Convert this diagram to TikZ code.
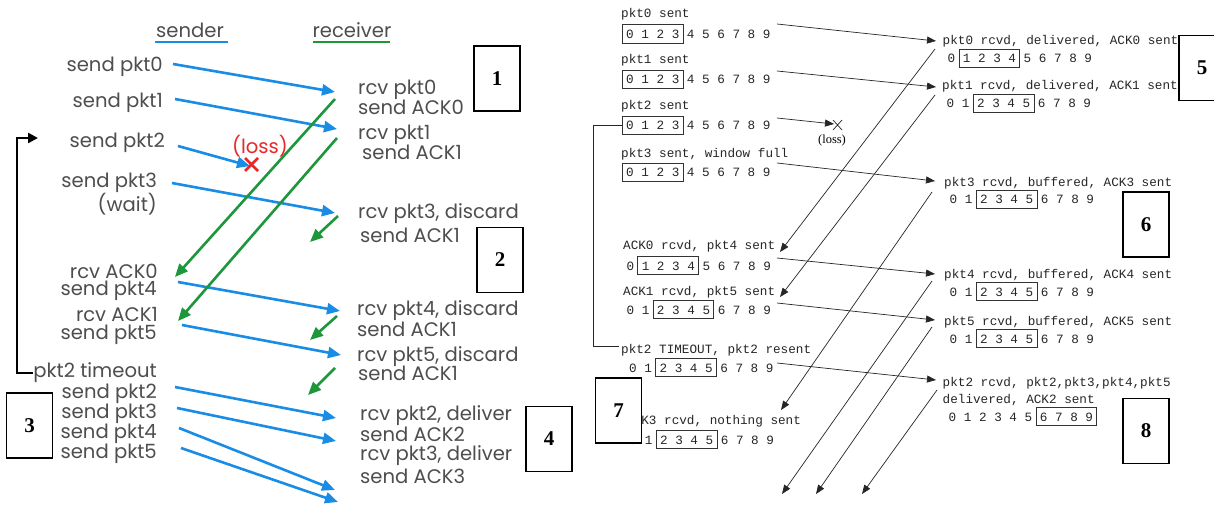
\documentclass[tikz,border=0pt]{standalone}
\usepackage{fontspec}
\usetikzlibrary{arrows.meta}
\newfontfamily\gothic{Poppins}
\newfontfamily\monof{Liberation Mono}
\newfontfamily\serifn{Liberation Serif}
\definecolor{ablue}{RGB}{25,140,230}
\definecolor{agreen}{RGB}{30,150,60}
\definecolor{txtgray}{RGB}{78,78,78}
\definecolor{lossred}{RGB}{232,40,40}
\tikzset{
  lbl/.style={font=\gothic\fontsize{19.6}{20}\selectfont, text=txtgray, inner sep=0pt},
  mono/.style={font=\monof\fontsize{12.66}{13}\selectfont, text=black!85, inner sep=0pt, anchor=base west},
  winbox/.style={draw=black!80, line width=0.8pt},
  barrow/.style={draw=ablue, line width=2.6pt, -{Triangle[length=13pt,width=11pt]}},
  garrow/.style={draw=agreen, line width=2.6pt, -{Triangle[length=13pt,width=11pt]}},
  karrow/.style={draw=black!85, line width=0.7pt, -{Triangle[length=9pt,width=7pt]}},
  numbox/.style={draw, line width=1.8pt, fill=white, minimum width=46pt, minimum height=65pt, inner sep=0pt, font=\serifn\bfseries\fontsize{21}{21}\selectfont},
  bracket/.style={draw=black, line width=2.4pt},
}
% #1 name, #2 x0, #3 baseline y, #4 first boxed index
\newcommand{\winrow}[4]{%
  \node[mono] (#1) at (#2,#3) {0 1 2 3 4 5 6 7 8 9};
  \draw[winbox] ({#2+(2*#4-0.5)*7.6},{#3-14}) rectangle ({#2+(2*#4+7.5)*7.6},{#3+4.5});
}
\begin{document}
\begin{tikzpicture}[x=1pt,y=-1pt]
\clip (0,0) rectangle (1214,505);
\fill[white] (0,0) rectangle (1214,505);

% ---------------- left: titles ----------------
\node[lbl] (sender) at (190,30) {sender};
\draw[ablue, line width=2.5pt] (155,42) -- (228,42);
\node[lbl] (receiver) at (352,30) {receiver};
\draw[agreen, line width=2.5pt] (313,42) -- (390,42);

% ---------------- left: sender labels ----------------
\node[lbl, anchor=east] (s0) at (163,67) {send pkt0};
\node[lbl, anchor=east] (s1) at (163,103) {send pkt1};
\node[lbl, anchor=east] (s2) at (165,143) {send pkt2};
\node[lbl, anchor=east] (s3) at (157,183) {send pkt3};
\node[lbl, anchor=east] (s3w) at (157,204) {(wait)};
\node[lbl, anchor=east] (ra0) at (158,271) {rcv ACK0};
\node[lbl, anchor=east] (s4) at (157,291) {send pkt4};
\node[lbl, anchor=east] (ra1) at (158,315) {rcv ACK1};
\node[lbl, anchor=east] (s5) at (157,335) {send pkt5};
\node[lbl, anchor=east] (tmo) at (157,373) {pkt2 timeout};
\node[lbl, anchor=east] (s2b) at (157,394) {send pkt2};
\node[lbl, anchor=east] (s3b) at (157,414) {send pkt3};
\node[lbl, anchor=east] (s4b) at (157,434) {send pkt4};
\node[lbl, anchor=east] (s5b) at (157,454) {send pkt5};

% ---------------- left: receiver labels ----------------
\node[lbl, anchor=west] (r0a) at (358,90) {rcv pkt0};
\node[lbl, anchor=west] (r0b) at (358,107) {send ACK0};
\node[lbl, anchor=west] (r1a) at (358,135) {rcv pkt1};
\node[lbl, anchor=west] (r1b) at (362,152) {send ACK1};
\node[lbl, anchor=west] (r3a) at (358,214) {rcv pkt3, discard};
\node[lbl, anchor=west] (r3b) at (360,235) {send ACK1};
\node[lbl, anchor=west] (r4a) at (357,311) {rcv pkt4, discard};
\node[lbl, anchor=west] (r4b) at (357,329) {send ACK1};
\node[lbl, anchor=west] (r5a) at (357,357) {rcv pkt5, discard};
\node[lbl, anchor=west] (r5b) at (358,373) {send ACK1};
\node[lbl, anchor=west] (r2a) at (360,416) {rcv pkt2, deliver};
\node[lbl, anchor=west] (r2b) at (360,434.5) {send ACK2};
\node[lbl, anchor=west] (r3c) at (360,456) {rcv pkt3, deliver};
\node[lbl, anchor=west] (r3d) at (360,476) {send ACK3};

% ---------------- left: timeout bracket ----------------
\coordinate (brtop) at (38,138);
\draw[bracket, -{Triangle[length=10pt,width=10pt]}] (tmo.west) -| (17,138) -- (brtop);

% ---------------- left: blue data arrows ----------------
\coordinate (b0s) at (173,64);  \coordinate (b0e) at (335,92);
\coordinate (b1s) at (175,99);  \coordinate (b1e) at (337,129);
\coordinate (b2s) at (178,146); \coordinate (b2e) at (250,166);
\coordinate (b3s) at (172,183); \coordinate (b3e) at (335,213);
\coordinate (b4s) at (178,282); \coordinate (b4e) at (340,311);
\coordinate (b5s) at (182,325); \coordinate (b5e) at (341,355);
\coordinate (b6s) at (175,387); \coordinate (b6e) at (336,418);
\coordinate (b7s) at (177,408); \coordinate (b7e) at (336,441);
\coordinate (b8s) at (179,428); \coordinate (b8e) at (335,490);
\coordinate (b9s) at (181,448); \coordinate (b9e) at (338,502);
\draw[barrow] (b0s) -- (b0e);
\draw[barrow] (b1s) -- (b1e);
\draw[barrow] (b2s) -- (b2e);
\draw[barrow] (b3s) -- (b3e);
\draw[barrow] (b4s) -- (b4e);
\draw[barrow] (b5s) -- (b5e);
\draw[barrow] (b6s) -- (b6e);
\draw[barrow] (b7s) -- (b7e);
\draw[barrow] (b8s) -- (b8e);
\draw[barrow] (b9s) -- (b9e);

% ---------------- left: green ACK arrows ----------------
\coordinate (g0s) at (335,99);  \coordinate (g0e) at (175,277);
\coordinate (g1s) at (337,138); \coordinate (g1e) at (178,321);
\coordinate (g2s) at (338,216); \coordinate (g2e) at (310,242);
\coordinate (g3s) at (337,316); \coordinate (g3e) at (310,340);
\coordinate (g4s) at (335,368); \coordinate (g4e) at (308,395);
\draw[garrow] (g0s) -- (g0e);
\draw[garrow] (g1s) -- (g1e);
\draw[garrow] (g2s) -- (g2e);
\draw[garrow] (g3s) -- (g3e);
\draw[garrow] (g4s) -- (g4e);

% ---------------- left: loss ----------------
\node[lbl, text=lossred] (lossL) at (260,146) {(loss)};
\draw[lossred, line width=2.6pt] (245,158) -- (258,171) (258,158) -- (245,171);

% ---------------- right: sender windows ----------------
\node[mono] (ls0) at (621,17.5) {pkt0 sent};
\winrow{w0}{626}{38.5}{0}
\node[mono] (ls1) at (621,63.5) {pkt1 sent};
\winrow{w1}{626}{84}{0}
\node[mono] (ls2) at (621,109.5) {pkt2 sent};
\winrow{w2}{626}{130}{0}
\node[mono] (ls3) at (621,157.5) {pkt3 sent, window full};
\winrow{w3}{626}{177}{0}
\node[mono] (la0) at (623,249.5) {ACK0 rcvd, pkt4 sent};
\winrow{w4}{626.4}{270}{1}
\node[mono] (la1) at (623,295) {ACK1 rcvd, pkt5 sent};
\winrow{w5}{626.4}{314}{2}
\node[mono] (ltmo) at (621,353) {pkt2 TIMEOUT, pkt2 resent};
\winrow{w6}{629}{372}{2}
\node[mono] (la3) at (626,424) {ACK3 rcvd, nothing sent};
\winrow{w7}{629.5}{444}{2}

% ---------------- right: receiver windows ----------------
\node[mono] (lr0) at (942.5,45) {pkt0 rcvd, delivered, ACK0 sent};
\winrow{v0}{947.5}{63}{1}
\node[mono] (lr1) at (942,90) {pkt1 rcvd, delivered, ACK1 sent};
\winrow{v1}{946.5}{108}{2}
\node[mono] (lr3) at (944,186) {pkt3 rcvd, buffered, ACK3 sent};
\winrow{v3}{949.5}{204}{2}
\node[mono] (lr4) at (944,278) {pkt4 rcvd, buffered, ACK4 sent};
\winrow{v4}{949.5}{296}{2}
\node[mono] (lr5) at (944,325) {pkt5 rcvd, buffered, ACK5 sent};
\winrow{v5}{949.5}{343}{2}
\node[mono] (lr2) at (942.5,386) {pkt2 rcvd, pkt2,pkt3,pkt4,pkt5};
\node[mono] (lr2b) at (942.5,403.5) {delivered, ACK2 sent};
\winrow{v2}{948.5}{421}{6}

% ---------------- right: timeout bracket ----------------
\coordinate (rbt) at (622,125);
\coordinate (rbb) at (619,346);
\draw[black!85, line width=0.8pt] (rbt) -- (593,125) |- (rbb);

% ---------------- right: data arrows ----------------
\coordinate (p0s) at (777,24);  \coordinate (p0e) at (936,41);
\coordinate (p1s) at (777,71);  \coordinate (p1e) at (936,87);
\coordinate (p2s) at (777,118); \coordinate (p2e) at (834,124);
\coordinate (p3s) at (777,163); \coordinate (p3e) at (935,181);
\coordinate (p4s) at (777,258); \coordinate (p4e) at (935,274);
\coordinate (p5s) at (777,303); \coordinate (p5e) at (935,320);
\coordinate (p6s) at (777,363); \coordinate (p6e) at (936,380);
\draw[karrow] (p0s) -- (p0e);
\draw[karrow] (p1s) -- (p1e);
\draw[karrow] (p2s) -- (p2e);
\draw[karrow] (p3s) -- (p3e);
\draw[karrow] (p4s) -- (p4e);
\draw[karrow] (p5s) -- (p5e);
\draw[karrow] (p6s) -- (p6e);
\draw[black!85, line width=0.7pt] (833,120) -- (842,130) (842,120) -- (833,130);
\node[font=\serifn\fontsize{12.5}{13}\selectfont, inner sep=0pt] (lossR) at (832,140) {(loss)};

% ---------------- right: ACK arrows ----------------
\coordinate (a0s) at (935,49);  \coordinate (a0e) at (780,252);
\coordinate (a1s) at (935,95);  \coordinate (a1e) at (780,297);
\coordinate (a3s) at (932,192); \coordinate (a3e) at (781,410);
\coordinate (a4s) at (932,281); \coordinate (a4e) at (782,494);
\coordinate (a5s) at (932,327); \coordinate (a5e) at (816,494);
\coordinate (a2s) at (937,390); \coordinate (a2e) at (862,494);
\draw[karrow] (a0s) -- (a0e);
\draw[karrow] (a1s) -- (a1e);
\draw[karrow] (a3s) -- (a3e);
\draw[karrow] (a4s) -- (a4e);
\draw[karrow] (a5s) -- (a5e);
\draw[karrow] (a2s) -- (a2e);

% ---------------- numbered boxes ----------------
\node[numbox] (box1) at (497,78.5) {1};
\node[numbox] (box2) at (500,260) {2};
\node[numbox] (box3) at (29.5,425.5) {3};
\node[numbox] (box4) at (549,439) {4};
\node[numbox] (box5) at (1202,68) {5};
\node[numbox] (box6) at (1146,224.5) {6};
\node[numbox] (box7) at (618.5,410.5) {7};
\node[numbox] (box8) at (1146,431) {8};
\end{tikzpicture}
\end{document}
